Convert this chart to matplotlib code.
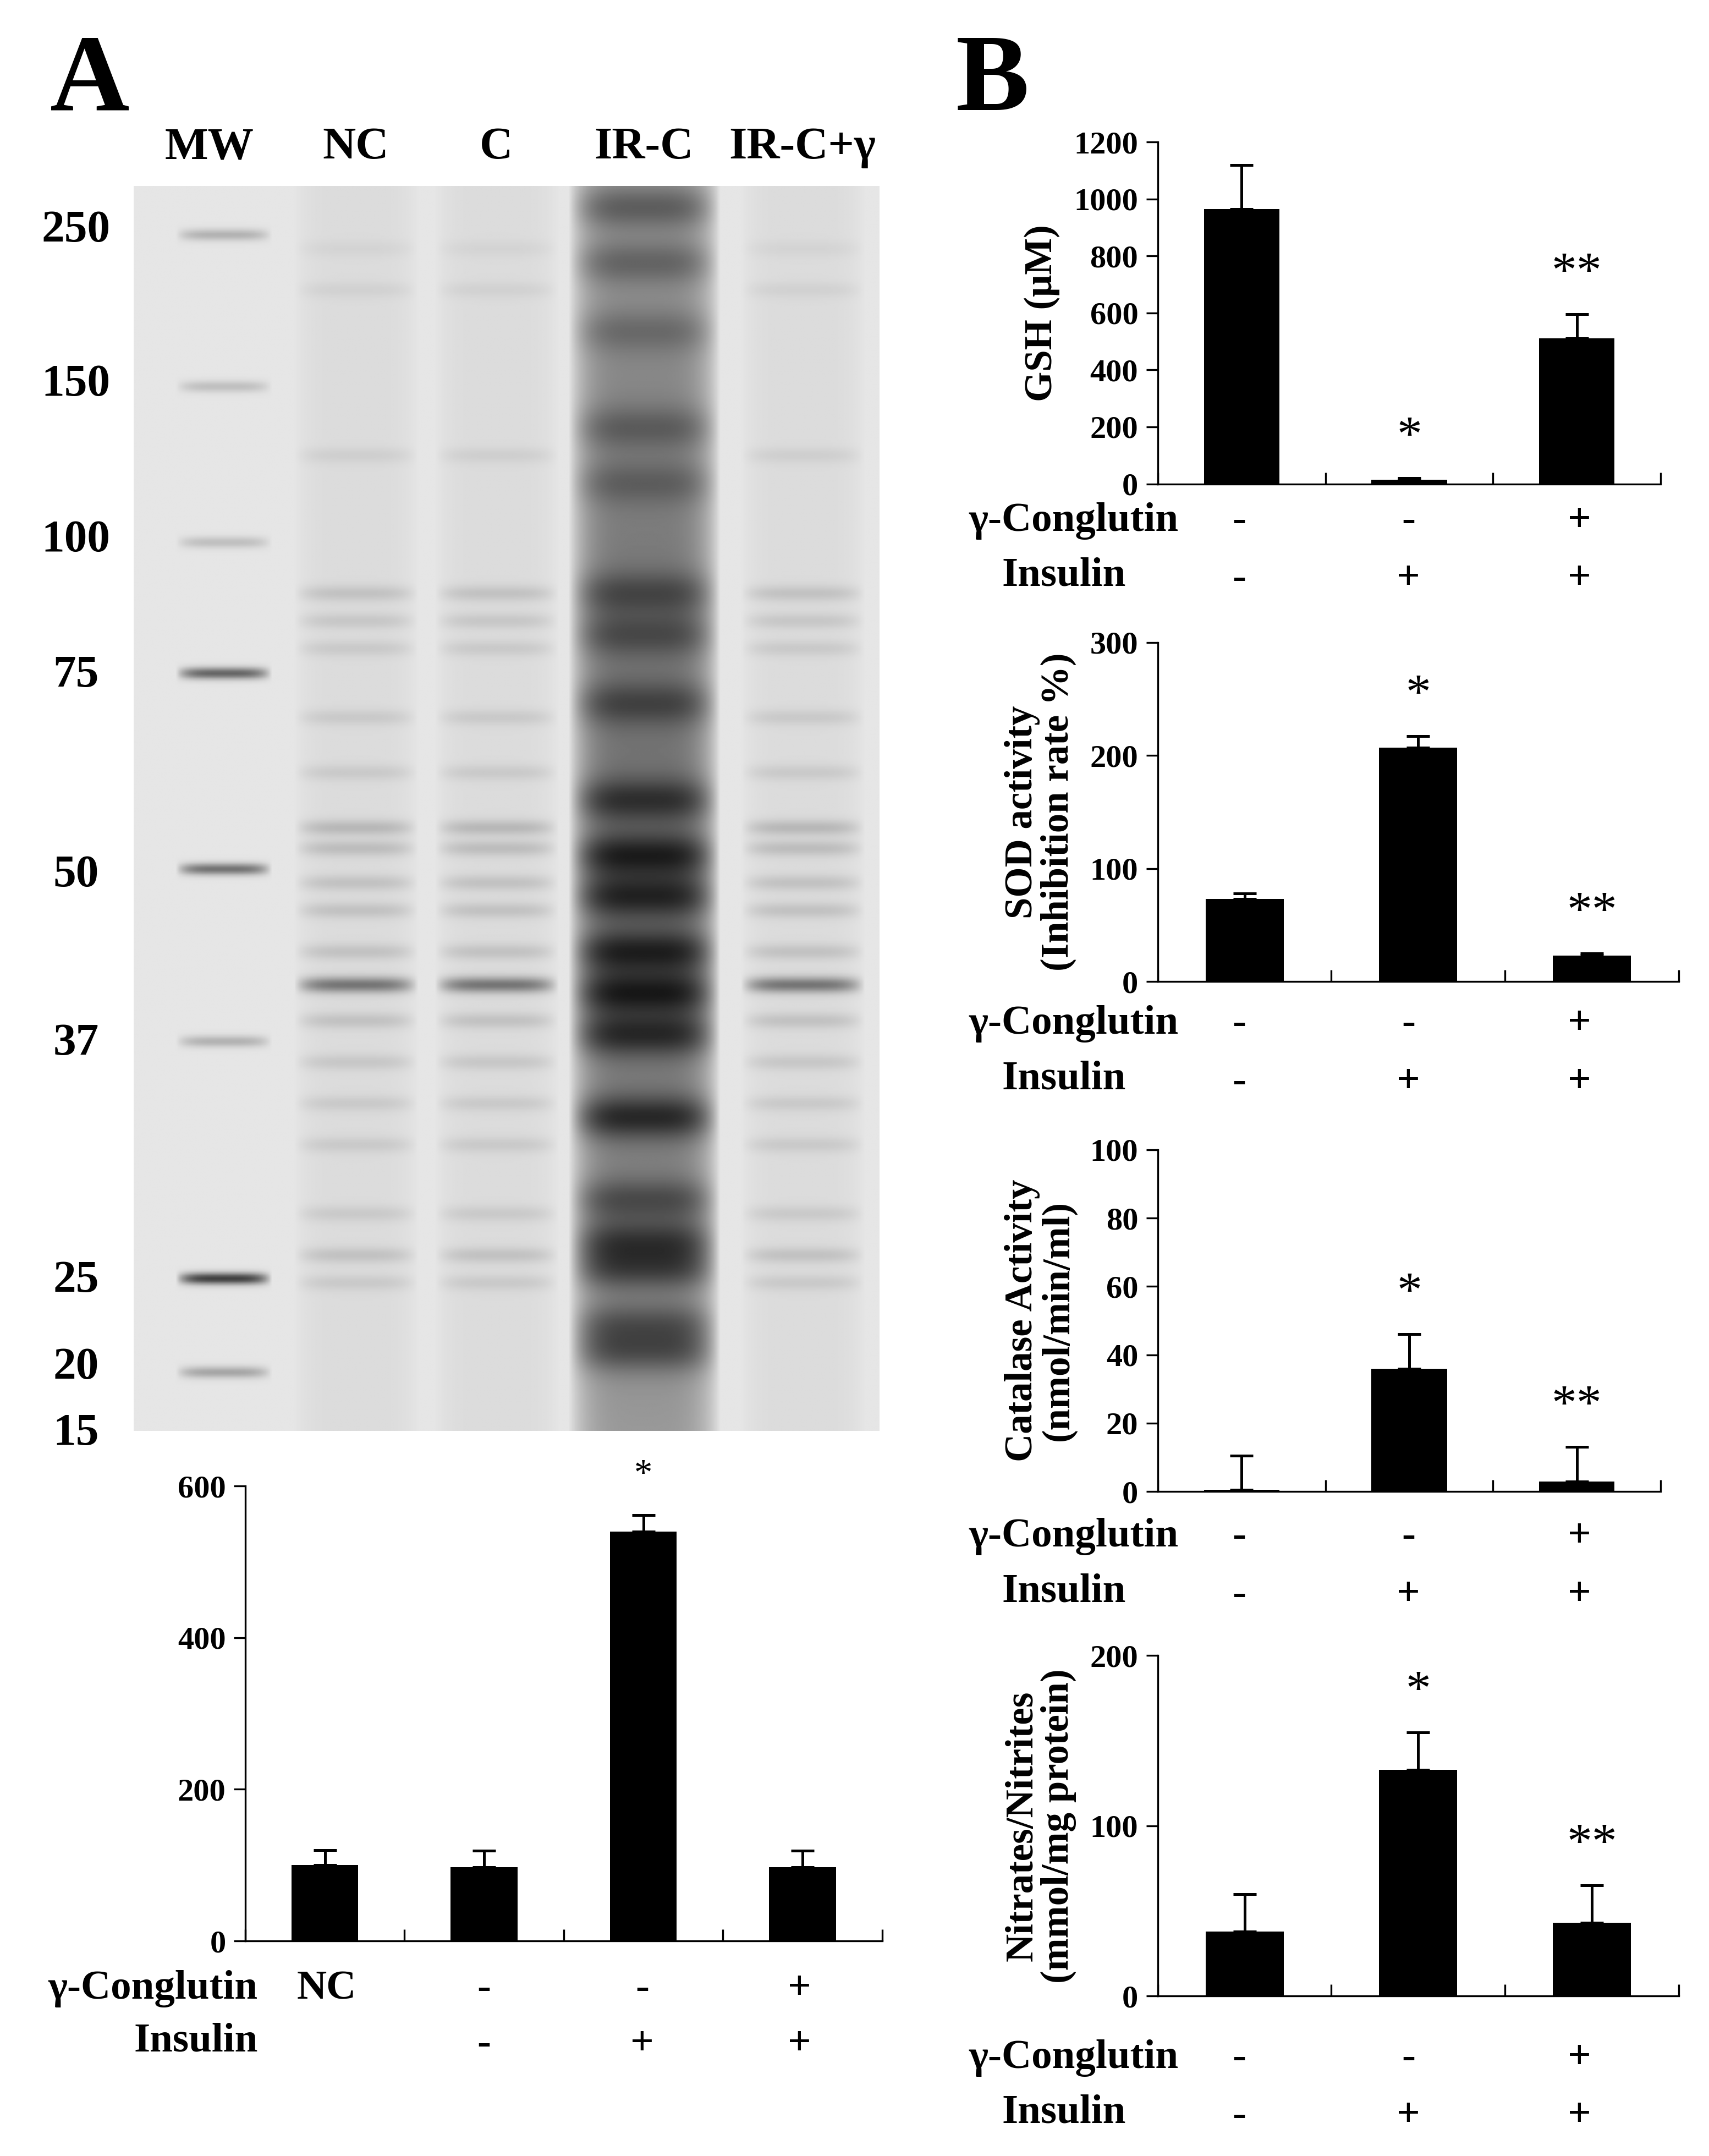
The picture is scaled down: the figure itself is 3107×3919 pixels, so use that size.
import numpy as np
import matplotlib
matplotlib.use("Agg")
import matplotlib.pyplot as plt

plt.rcParams['font.family'] = ['Liberation Serif', 'DejaVu Serif']
plt.rcParams['font.weight'] = 'bold'
plt.rcParams['axes.labelweight'] = 'bold'

W, H = 1240, 1564
fig = plt.figure(figsize=(3107/300, 3919/300), dpi=300)

def rect(x0, y0, x1, y1):
    return fig.add_axes([x0/W, 1-y1/H, (x1-x0)/W, (y1-y0)/H])

def txt(x, y, s, **kw):
    fig.text(x/W, 1-y/H, s, **kw)

# ---------------- data ----------------
lanes = ["MW", "NC", "C", "IR-C", "IR-C+γ"]
mw_labels = ["250", "150", "100", "75", "50", "37", "25", "20", "15"]
mw_label_y = [165, 277, 390, 488, 633, 755, 927, 990, 1038]
ladder_band_y = [170, 280, 393, 488, 630, 755, 927, 995]
ladder_band_int = [0.2, 0.15, 0.15, 0.5, 0.45, 0.2, 0.65, 0.25]
sample_band_y = [180, 210, 330, 430, 450, 470, 520, 560, 600, 615, 640, 660, 690, 714, 740, 770, 800, 830, 880, 910, 930]
sample_band_int = [0.03, 0.04, 0.05, 0.1, 0.08, 0.07, 0.07, 0.07, 0.14, 0.12, 0.1, 0.1, 0.1, 0.4, 0.1, 0.08, 0.07, 0.07, 0.07, 0.1, 0.07]
irc_band_y = [150, 190, 240, 310, 350, 430, 460, 510, 580, 620, 650, 690, 720, 750, 810, 870, 900, 920, 960, 980]
irc_band_int = [0.5, 0.4, 0.3, 0.35, 0.3, 0.45, 0.4, 0.45, 0.6, 0.75, 0.7, 0.75, 0.8, 0.7, 0.75, 0.5, 0.65, 0.6, 0.5, 0.55]

densit_groups = ["NC", "-", "-", "+"]
densit_ins = ["", "-", "+", "+"]
densit_vals = [100, 97, 540, 97]
densit_err = [20, 22, 22, 22]
densit_sig = ["", "", "*", ""]

cong = ["-", "-", "+"]
ins = ["-", "+", "+"]
gsh_vals = [965, 15, 510]; gsh_err = [155, 5, 85]; gsh_sig = ["", "*", "**"]
sod_vals = [73, 207, 23]; sod_err = [5, 10, 2]; sod_sig = ["", "*", "**"]
cat_vals = [0.5, 36, 3]; cat_err = [10, 10, 10]; cat_sig = ["", "*", "**"]
nit_vals = [38, 133, 43]; nit_err = [22, 22, 22]; nit_sig = ["", "*", "**"]

# ---------------- panel letters ----------------
txt(65, 80, "A", fontsize=48, ha='center', va='baseline')
txt(720, 80, "B", fontsize=48, ha='center', va='baseline')

# ---------------- gel ----------------
gx0, gy0, gx1, gy1 = 97, 135, 638, 1038
lane_x = [152, 258, 360, 467, 582]
lane_hw = [35, 45, 45, 55, 45]
ny, nx = gy1 - gy0, gx1 - gx0
yy = np.arange(gy0, gy1)[:, None]
xx = np.arange(gx0, gx1)[None, :]
dark = np.zeros((ny, nx))
def lmask(cx, hw):
    return np.clip(1 - (np.abs(xx - cx) / hw) ** 4, 0, 1)
def add_band(cx, hw, y, inten, sig=4):
    dark[:] += inten * np.exp(-((yy - y) ** 2) / (2 * sig ** 2)) * lmask(cx, hw)
for y, a in zip(ladder_band_y, ladder_band_int):
    add_band(lane_x[0] + 10, 35, y, a, 3)
for li in [1, 2, 4]:
    for y, a in zip(sample_band_y, sample_band_int):
        add_band(lane_x[li], lane_hw[li], y, a, 4)
    dark[:] += 0.04 * lmask(lane_x[li], lane_hw[li])
ramp = np.clip((yy - gy0) / (gy1 - gy0), 0, 1)
dark[:] += (0.3 + 0.15 * np.sin(ramp * np.pi)) * lmask(lane_x[3], lane_hw[3])
for y, a in zip(irc_band_y, irc_band_int):
    add_band(lane_x[3], lane_hw[3], y, a * 0.45, 11)
img = np.clip(0.9 - dark, 0.08, 1)
gax = rect(gx0, gy0, gx1, gy1)
gax.imshow(img, cmap='gray', vmin=0, vmax=1, aspect='auto')
gax.axis('off')
for x, s in zip(lane_x, lanes):
    txt(x, 115, s, fontsize=20, ha='center', va='baseline')
for y, s in zip(mw_label_y, mw_labels):
    txt(55, y + 10, s, fontsize=20, ha='center', va='baseline')

# ---------------- bar helper ----------------
def bars(ax, vals, err, sig, ymax, step, sigfs=20, width=0.45):
    x = np.arange(len(vals))
    ax.bar(x, vals, width=width, color='black')
    ax.errorbar(x, vals, yerr=[[0]*len(vals), err], fmt='none', ecolor='black', capsize=5, elinewidth=1.2, capthick=1.2)
    ax.set_xlim(-0.5, len(vals) - 0.5)
    ax.set_ylim(0, ymax)
    ax.set_yticks(np.arange(0, ymax + 1, step))
    ax.set_xticks(np.arange(-0.5, len(vals), 1.0))
    ax.set_xticklabels([])
    ax.tick_params(axis='x', direction='in', length=5)
    ax.tick_params(axis='y', direction='out', length=5, labelsize=14)
    for s in ['top', 'right']:
        ax.spines[s].set_visible(False)
    for xi, v, e, s in zip(x, vals, err, sig):
        if s:
            ax.text(xi, v + e + ymax * 0.05, s, ha='center', va='bottom', fontsize=sigfs, fontweight='normal')

# ---------------- A densitometry ----------------
ax = rect(178, 1078, 640, 1408)
bars(ax, densit_vals, densit_err, densit_sig, 600, 200, sigfs=16, width=0.42)
px = [237, 351, 466, 580]
txt(187, 1450, "γ-Conglutin", fontsize=18, ha='right', va='baseline')
txt(187, 1488, "Insulin", fontsize=18, ha='right', va='baseline')
for x, g, i in zip(px, densit_groups, densit_ins):
    txt(x, 1450, g, fontsize=18, ha='center', va='baseline')
    txt(x, 1490, i, fontsize=18, ha='center', va='baseline')

# ---------------- B panels ----------------
bpx = [901, 1024, 1148]
panels = [
    ((840, 103, 1205, 351), gsh_vals, gsh_err, gsh_sig, 1200, 200, "GSH (μM)", 385, 425),
    ((840, 466, 1218, 712), sod_vals, sod_err, sod_sig, 300, 100, "SOD activity\n(Inhibition rate %)", 750, 790),
    ((840, 834, 1205, 1082), cat_vals, cat_err, cat_sig, 100, 20, "Catalase Activity\n(nmol/min/ml)", 1122, 1162),
    ((840, 1201, 1218, 1448), nit_vals, nit_err, nit_sig, 200, 100, "Nitrates/Nitrites\n(mmol/mg protein)", 1500, 1540),
]
for (r, v, e, s, ym, st, yl, cy, iy) in panels:
    ax = rect(*r)
    bars(ax, v, e, s, ym, st, sigfs=22)
    ax.set_ylabel(yl, fontsize=17, labelpad=6, linespacing=1.0)
    txt(855, cy, "γ-Conglutin", fontsize=18, ha='right', va='baseline')
    txt(817, iy, "Insulin", fontsize=18, ha='right', va='baseline')
    for x, c, i in zip(bpx, cong, ins):
        txt(x - 2, cy, c, fontsize=18, ha='center', va='baseline')
        txt(x - 2, iy + 2, i, fontsize=18, ha='center', va='baseline')

fig.savefig("out.png", dpi=300)
